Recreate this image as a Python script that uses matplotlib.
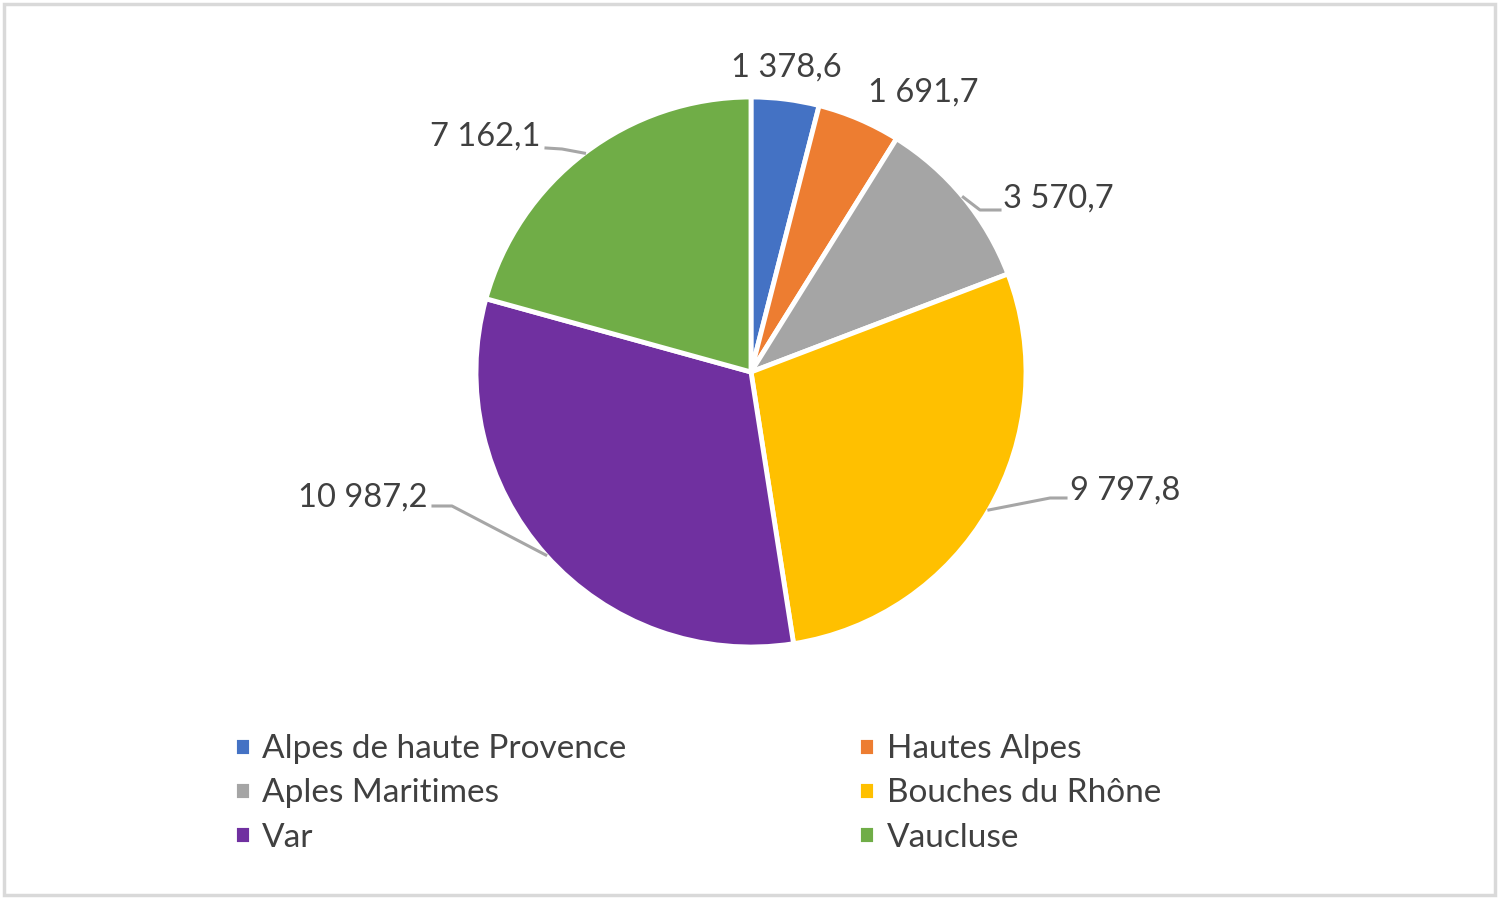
import numpy as np
import matplotlib
matplotlib.use('Agg')
import matplotlib.pyplot as plt
from matplotlib.patches import Rectangle

plt.rcParams['font.family'] = ['Lato', 'DejaVu Sans']

# données
departements = ['Alpes de haute Provence', 'Hautes Alpes', 'Aples Maritimes',
                'Bouches du Rhône', 'Var', 'Vaucluse']
valeurs = [1378.6, 1691.7, 3570.7, 9797.8, 10987.2, 7162.1]
etiquettes = ['1 378,6', '1 691,7', '3 570,7', '9 797,8', '10 987,2', '7 162,1']
couleurs = ['#4472C4', '#ED7D31', '#A5A5A5', '#FFC000', '#7030A0', '#70AD47']

W, H = 1499, 899
CX, CY, R = 751, 372, 275

fig = plt.figure(figsize=(W / 100, H / 100), dpi=100)
ax = fig.add_axes([(CX - R) / W, (H - CY - R) / H, 2 * R / W, 2 * R / H])
wedges, _ = ax.pie(valeurs, colors=couleurs, startangle=90, counterclock=False,
                   radius=1, wedgeprops=dict(edgecolor='white', linewidth=3.5))
ax.set_xlim(-1, 1); ax.set_ylim(-1, 1)
ax.set_aspect('equal'); ax.axis('off')

def px(x, y):
    # pixels de l'image -> coordonnées de l'axe
    return (x - CX) / R, (CY - y) / R

# position des étiquettes (pixels), alignement, coude de la ligne de rappel
pos_txt = [(786, 77, 'center', None), (923, 102, 'center', None),
           (1003, 208, 'left', [(980, 210), (1000, 210)]),
           (1070, 500, 'left', [(1050, 498), (1066, 498)]),
           (427, 507, 'right', [(452, 506), (433, 506)]),
           (541, 146, 'right', [(562, 149), (546, 148)])]

for w, lab, (x, y, ha, coude) in zip(wedges, etiquettes, pos_txt):
    tx, ty = px(x, y)
    ax.text(tx, ty, lab, ha=ha, va='baseline', fontsize=23.5, color='#404040',
            clip_on=False)
    if coude:
        a = np.deg2rad((w.theta1 + w.theta2) / 2)
        pts = [(np.cos(a), np.sin(a))] + [px(*p) for p in coude]
        xs, ys = zip(*pts)
        ax.plot(xs, ys, color='#A6A6A6', lw=2.2, clip_on=False)

ordre = [0, 2, 4, 1, 3, 5]
fig.legend([wedges[i] for i in ordre], [departements[i] for i in ordre],
           ncol=2, loc='upper left', bbox_to_anchor=(234 / W, 1 - 734 / H),
           frameon=False, fontsize=24, labelcolor='#404040',
           handlelength=0.5, handleheight=0.5, handletextpad=0.35,
           columnspacing=6.95, labelspacing=0.43, borderaxespad=0,
           borderpad=0)

fig.patches.append(Rectangle((4 / W, 4 / H), (W - 8) / W, (H - 8) / H,
                             transform=fig.transFigure, fill=False,
                             edgecolor='#D9D9D9', lw=2.5))
fig.savefig('out.png', dpi=100)
